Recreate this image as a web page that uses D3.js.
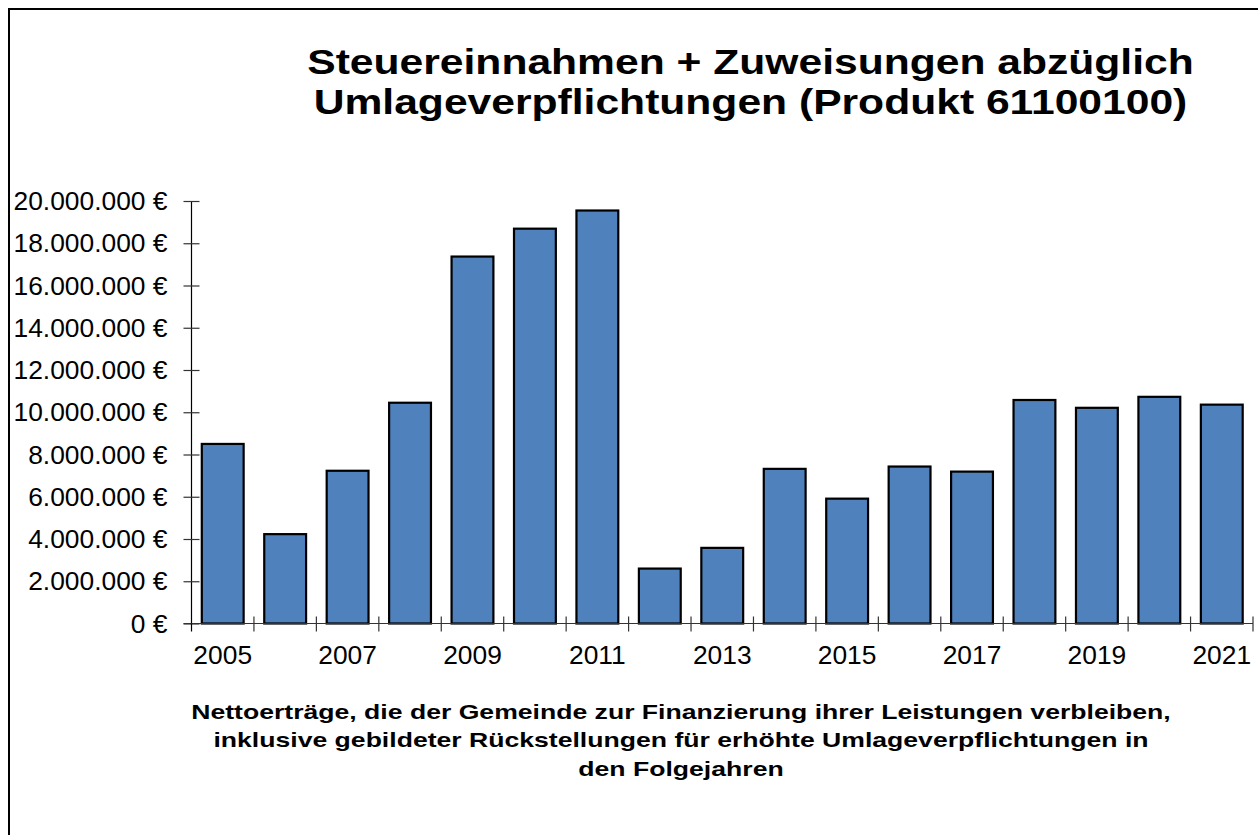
<!DOCTYPE html>
<html><head><meta charset="utf-8">
<script src="https://cdn.jsdelivr.net/npm/d3@7/dist/d3.min.js"></script>
<style>
html,body{margin:0;padding:0;background:#fff;}
svg{display:block;font-family:"Liberation Sans",Arial,Helvetica,sans-serif;}
</style></head>
<body>
<svg id="chart" width="1258" height="835"></svg>
<script>
const years = ["2005","2006","2007","2008","2009","2010","2011","2012","2013","2014","2015","2016","2017","2018","2019","2020","2021"];
const values = [8500000,4230000,7230000,10450000,17370000,18690000,19550000,2600000,3580000,7320000,5910000,7430000,7190000,10580000,10210000,10730000,10360000];
const yTicks = [0,2000000,4000000,6000000,8000000,10000000,12000000,14000000,16000000,18000000,20000000];
const xLabels = ["2005","2007","2009","2011","2013","2015","2017","2019","2021"];
const titleLines = ["Steuereinnahmen + Zuweisungen abzüglich","Umlageverpflichtungen (Produkt 61100100)"];
const subtitleLines = ["Nettoerträge, die der Gemeinde zur Finanzierung ihrer Leistungen verbleiben,","inklusive gebildeter Rückstellungen für erhöhte Umlageverpflichtungen in","den Folgejahren"];

const svg = d3.select("#chart");
const L = 191.5, R = 1253, T = 201, B = 623.5;

function stretch(sel, f){
  sel.each(function(){
    const len = this.getComputedTextLength();
    d3.select(this).attr("textLength", len*f).attr("lengthAdjust","spacingAndGlyphs");
  });
}

// frame
svg.append("path").attr("d","M9,835V9H1258").attr("fill","none").attr("stroke","#000").attr("stroke-width",2);

const x = d3.scaleBand().domain(years).range([L,R]).paddingInner(0.33).paddingOuter(0.165);
const xb = d3.scaleBand().domain(years).range([L,R]);
const y = d3.scaleLinear().domain([0,20000000]).range([B,T]);

const fmt = v => d3.format(",")(v).replace(/,/g,".") + " €";

// bars
svg.append("g").selectAll("rect").data(values).join("rect")
  .attr("x",(d,i)=>x(years[i])).attr("width",x.bandwidth())
  .attr("y",d=>y(d)).attr("height",d=>B-y(d))
  .attr("fill","#4F81BD").attr("stroke","#000").attr("stroke-width",2.2);

// y axis
const ya = svg.append("g").attr("transform",`translate(${L},0)`)
  .call(d3.axisLeft(y).tickValues(yTicks).tickFormat(fmt).tickSize(8).tickPadding(16));
ya.select(".domain").attr("stroke","#000").attr("stroke-width",1.2).attr("d",`M0,${T}V${B}`);
ya.selectAll(".tick line").attr("x1",-8).attr("x2",8).attr("stroke","#333").attr("stroke-width",1.2);
const yt = ya.selectAll(".tick text").attr("font-size",25).attr("fill","#000").attr("font-family","Liberation Sans, Arial, sans-serif").attr("dy","0.34em");
stretch(yt, 1.055);

// x axis baseline + boundary ticks
const xa = svg.append("g");
xa.append("line").attr("x1",L-8).attr("x2",R).attr("y1",B).attr("y2",B).attr("stroke","#333").attr("stroke-width",1.2);
const bounds = years.map(yv=>xb(yv)).concat([R]);
xa.selectAll("line.t").data(bounds.slice(1)).join("line").attr("class","t")
  .attr("x1",d=>d).attr("x2",d=>d).attr("y1",B-7).attr("y2",B+8).attr("stroke","#333").attr("stroke-width",1.2);
xa.append("line").attr("x1",L).attr("x2",L).attr("y1",B).attr("y2",B+8).attr("stroke","#000").attr("stroke-width",1.2);
const xt = xa.selectAll("text").data(xLabels).join("text")
  .attr("x",d=>xb(d)+xb.bandwidth()/2).attr("y",663.5)
  .attr("text-anchor","middle").attr("font-size",25).attr("fill","#000").text(d=>d);
stretch(xt, 1.055);

// title
const tt = svg.append("g").selectAll("text").data(titleLines).join("text")
  .attr("x",750.5).attr("y",(d,i)=>73.5+i*40).attr("text-anchor","middle")
  .attr("font-size",35.5).attr("font-weight","bold").attr("fill","#000").text(d=>d);
stretch(tt, 1.2);

// axis title
const st = svg.append("g").selectAll("text").data(subtitleLines).join("text")
  .attr("x",681).attr("y",(d,i)=>718.5+i*28.5).attr("text-anchor","middle")
  .attr("font-size",21).attr("font-weight","bold").attr("fill","#000").text(d=>d);
stretch(st, 1.266);
</script>
</body></html>
